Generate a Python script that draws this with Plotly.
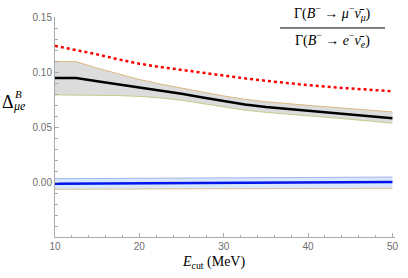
import plotly.graph_objects as go

# x grid (E_cut in MeV)
e_cut = [10, 12.5, 15, 17.5, 20, 22.5, 25, 27.5, 30, 32.5, 35, 40, 45, 50]

# red dotted curve
red_vals = [0.1238, 0.1200, 0.1160, 0.1115, 0.1075, 0.1045, 0.1018, 0.0990, 0.0965, 0.0942, 0.0920, 0.0880, 0.0850, 0.0825]

# black central curve and grey band
black_vals = [0.0945, 0.0945, 0.0915, 0.0887, 0.0860, 0.0832, 0.0802, 0.0768, 0.0733, 0.0704, 0.0682, 0.0648, 0.0613, 0.0580]
black_upper = [0.1095, 0.1095, 0.1035, 0.0980, 0.0932, 0.0890, 0.0853, 0.0816, 0.0782, 0.0752, 0.0730, 0.0697, 0.0667, 0.0637]
black_lower = [0.0792, 0.0792, 0.0790, 0.0786, 0.0778, 0.0764, 0.0743, 0.0712, 0.0680, 0.0653, 0.0633, 0.0603, 0.0570, 0.0535]

# blue central curve and band
blue_vals = [-0.0015, -0.0014, -0.0013, -0.0012, -0.0010, -0.0009, -0.0008, -0.0006, -0.0005, -0.0004, -0.0003, -0.0002, -0.0001, 0.0]
blue_upper = [0.0030, 0.0031, 0.0032, 0.0033, 0.0034, 0.0035, 0.0036, 0.0037, 0.0038, 0.0039, 0.0040, 0.0042, 0.0044, 0.0045]
blue_lower = [-0.0066, -0.0065, -0.0065, -0.0064, -0.0063, -0.0062, -0.0062, -0.0061, -0.0060, -0.0060, -0.0059, -0.0058, -0.0058, -0.0057]

x_ticks = [10, 20, 30, 40, 50]
y_ticks = [0.00, 0.05, 0.10, 0.15]
y_tick_text = ["0.00", "0.05", "0.10", "0.15"]

fig = go.Figure()

# grey band
fig.add_trace(go.Scatter(x=e_cut, y=black_upper, mode="lines",
                         line=dict(color="rgb(222,184,128)", width=1), showlegend=False, hoverinfo="skip"))
fig.add_trace(go.Scatter(x=e_cut, y=black_lower, mode="lines", fill="tonexty",
                         fillcolor="rgb(220,220,220)",
                         line=dict(color="rgb(196,204,140)", width=1), showlegend=False, hoverinfo="skip"))
# blue band
fig.add_trace(go.Scatter(x=e_cut, y=blue_upper, mode="lines",
                         line=dict(color="rgb(160,180,235)", width=1), showlegend=False, hoverinfo="skip"))
fig.add_trace(go.Scatter(x=e_cut, y=blue_lower, mode="lines", fill="tonexty",
                         fillcolor="rgb(216,232,252)",
                         line=dict(color="rgb(222,190,150)", width=1), showlegend=False, hoverinfo="skip"))

fig.add_trace(go.Scatter(x=e_cut, y=red_vals, mode="lines",
                         line=dict(color="rgb(255,0,0)", width=2.5, dash="dot"), showlegend=False))
fig.add_trace(go.Scatter(x=e_cut, y=black_vals, mode="lines",
                         line=dict(color="black", width=2.5), showlegend=False))
fig.add_trace(go.Scatter(x=e_cut, y=blue_vals, mode="lines",
                         line=dict(color="rgb(0,20,235)", width=2.5), showlegend=False))

axis_common = dict(showgrid=False, zeroline=False, showline=True, linecolor="rgb(170,170,170)",
                   linewidth=1, ticks="inside", tickcolor="rgb(170,170,170)", tickwidth=1,
                   tickfont=dict(family="Liberation Sans", size=10, color="rgb(110,110,110)"))

fig.update_xaxes(range=[10, 50.3], tickvals=x_ticks, ticklen=4,
                 minor=dict(dtick=2, tick0=10, ticklen=2.5, ticks="inside",
                            tickcolor="rgb(170,170,170)", tickwidth=1),
                 **axis_common)
fig.update_yaxes(range=[-0.05, 0.15], tickvals=y_ticks, ticktext=y_tick_text, ticklen=4,
                 minor=dict(dtick=0.01, tick0=0, ticklen=2.5, ticks="inside",
                            tickcolor="rgb(170,170,170)", tickwidth=1),
                 **axis_common)

serif = "Liberation Serif"
annotations = [
    # x-axis title
    dict(text="<i>E</i><sub>cut</sub> (MeV)", x=215, y=263, showarrow=False,
         font=dict(family=serif, size=14, color="black")),
    # y-axis title
    dict(text="Δ", x=8, y=102, showarrow=False, font=dict(family=serif, size=18, color="black")),
    dict(text="<i>B</i>", x=18, y=94, showarrow=False, font=dict(family=serif, size=11, color="black")),
    dict(text="<i>μe</i>", x=19, y=106, showarrow=False, font=dict(family=serif, size=12, color="black")),
    # ratio label
    dict(text="Γ(<i>B</i><sup>−</sup> → <i>μ</i><sup>−</sup><i>ν̄</i><sub><i>μ</i></sub>)",
         x=335, y=13, showarrow=False, font=dict(family=serif, size=14, color="black")),
    dict(text="Γ(<i>B</i><sup>−</sup> → <i>e</i><sup>−</sup><i>ν̄</i><sub><i>e</i></sub>)",
         x=335, y=40, showarrow=False, font=dict(family=serif, size=14, color="black")),
]
# convert pixel positions to paper coordinates
L, R, T, B = 55, 10, 17, 40.5
W, H = 408, 278
pw, ph = W - L - R, H - T - B
for a in annotations:
    a["xref"] = "paper"
    a["yref"] = "paper"
    a["x"] = (a["x"] - L) / pw
    a["y"] = (H - B - a["y"]) / ph
    a["xanchor"] = "center"
    a["yanchor"] = "middle"

fig.update_layout(
    width=W, height=H,
    margin=dict(l=L, r=R, t=T, b=B),
    paper_bgcolor="white", plot_bgcolor="white",
    annotations=annotations,
    shapes=[dict(type="line", xref="paper", yref="paper",
                 x0=(282 - L) / pw, x1=(388 - L) / pw,
                 y0=(H - B - 28) / ph, y1=(H - B - 28) / ph,
                 line=dict(color="black", width=1))],
)

fig.write_html("out.html", config={"displayModeBar": False},
               post_script="document.body.style.margin='0px';document.body.style.overflow='hidden';")
